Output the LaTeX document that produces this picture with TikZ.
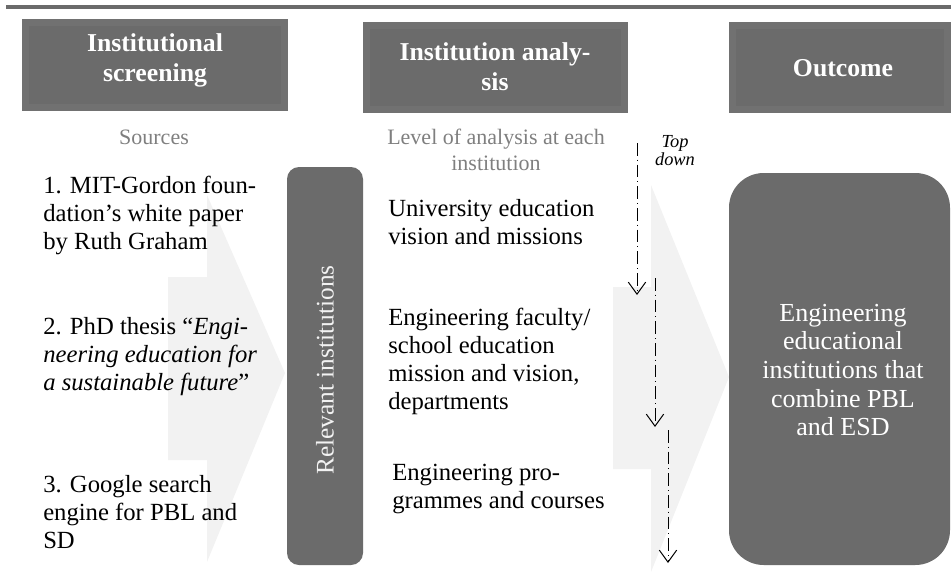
\documentclass[tikz,border=0pt]{standalone}
\usepackage{fontspec}
\setmainfont{Liberation Serif}
\usetikzlibrary{arrows.meta}
\definecolor{boxgray}{RGB}{107,107,107}
\definecolor{bevelgray}{RGB}{113,113,113}
\definecolor{arrowfill}{RGB}{242,242,242}
\definecolor{labelgray}{RGB}{127,127,127}
\tikzset{
  headtext/.style={text=white, font=\bfseries\fontsize{19.3}{22.5}\selectfont, align=center, inner sep=0.75pt},
  subtext/.style={text=labelgray, font=\fontsize{16.5}{19.5}\selectfont, align=center, inner sep=0.75pt},
  bodytext/.style={font=\fontsize{18.5}{21}\selectfont, align=left, anchor=west, inner sep=0.75pt},
  topdown/.style={line width=0.75pt, dash pattern=on 9.5pt off 3pt on 0.75pt off 3pt, -{Straight Barb[length=9pt,width=13pt]}}
}
\begin{document}
\begin{tikzpicture}[x=0.75pt,y=0.75pt,yscale=-1,xscale=1]
\useasboundingbox (0,0) rectangle (951,586);

%Shape: top rule
\fill[boxgray] (6,5) rectangle (951,9);

%Shape: header boxes with bevel
\foreach \xa/\xb/\ya/\yb in {22/288/19/111, 363/628/22/113, 729/951/22/113}{
  \fill[bevelgray] (\xa,\ya) rectangle (\xb,\yb);
  \fill[boxgray] (\xa+7,\ya+7) rectangle (\xb-7,\yb-7);
}

%Shape: block arrows
\fill[arrowfill] (168,277) -- (207,277) -- (207,195) -- (285,373) -- (207,562) -- (207,460) -- (168,460) -- cycle;
\fill[arrowfill] (613,287) -- (651,287) -- (651,185) -- (729,377) -- (651,572) -- (651,469) -- (613,469) -- cycle;

%Shape: rounded boxes
\fill[boxgray, rounded corners=9pt] (287,167) rectangle (363,565);
\fill[boxgray, rounded corners=26pt] (729,173) rectangle (950,565);

% Text Node
\node (hscreen) [headtext] at (155,60) {Institutional\\screening};
% Text Node
\node (hanalysis) [headtext] at (495,67) {Institution analy-\\sis};
% Text Node
\node (houtcome) [headtext] at (843,68) {Outcome};

% Text Node
\node (sources) [subtext] at (154,137) {Sources};
% Text Node
\node (level) [subtext] at (496,150) {Level of analysis at each\\institution};

% Text Node
\node (src1) [bodytext] at (42,215) {1. MIT-Gordon foun-\\dation’s white paper\\by Ruth Graham};
% Text Node
\node (src2) [bodytext] at (42,357) {2. PhD thesis “\textit{Engi-}\\\textit{neering education for}\\\textit{a sustainable future}”};
% Text Node
\node (src3) [bodytext] at (42,512) {3. Google search\\engine for PBL and\\SD};

% Text Node
\node (relevant) [rotate=90, text=arrowfill, font=\fontsize{19}{21}\selectfont, inner sep=0.75pt] at (325,370) {Relevant institutions};

% Text Node
\node (lvl1) [bodytext] at (387,222) {University education\\vision and missions};
% Text Node
\node (lvl2) [bodytext] at (387,361) {Engineering faculty/\\school education\\mission and vision,\\departments};
% Text Node
\node (lvl3) [bodytext] at (391,489) {Engineering pro-\\grammes and courses};

% Text Node
\node (tdlabel) [font=\itshape\fontsize{13.8}{13.5}\selectfont, align=center, inner sep=0.75pt] at (675,151) {Top\\down};

% Text Node
\node (outcome) [text=white, font=\fontsize{19.5}{21.4}\selectfont, align=center, inner sep=0.75pt] at (843,370) {Engineering\\educational\\institutions that\\combine PBL\\and ESD};

%Straight Lines: top down arrows
\coordinate (tdA1) at (637,143);
\coordinate (tdA2) at (637,295);
\coordinate (tdB1) at (655,278);
\coordinate (tdB2) at (655,427);
\coordinate (tdC1) at (668,430);
\coordinate (tdC2) at (668,563);
\draw[topdown] (tdA1) -- (tdA2);
\draw[topdown] (tdB1) -- (tdB2);
\draw[topdown] (tdC1) -- (tdC2);

\end{tikzpicture}
\end{document}
